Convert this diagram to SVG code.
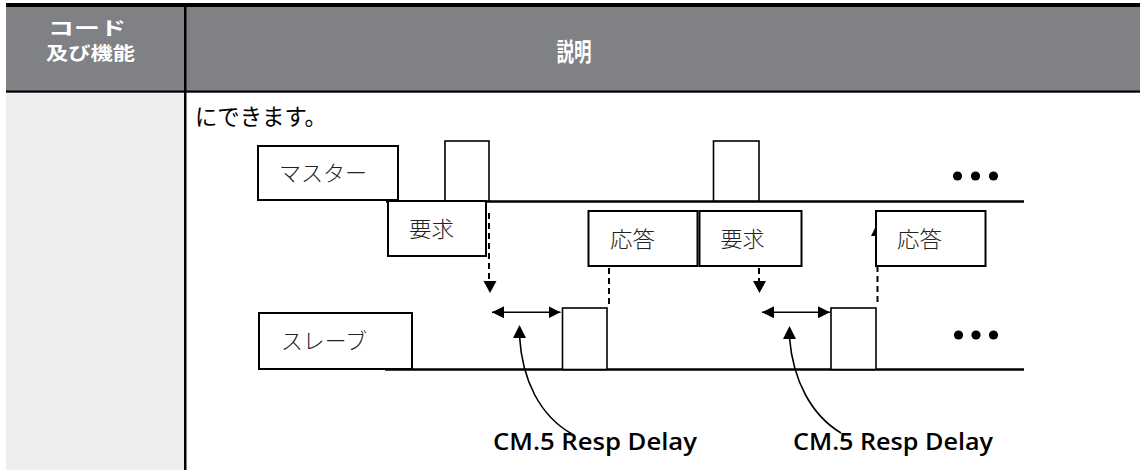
<svg xmlns="http://www.w3.org/2000/svg" width="1140" height="470" viewBox="0 0 1140 470">
<style>
.hdr{font-family:"Noto Sans CJK JP","Noto Sans",sans-serif;font-weight:bold;fill:#fff}
.body{font-family:"Noto Sans CJK JP","Noto Sans",sans-serif;fill:#000}
.lbl{font-family:"Noto Sans CJK JP",sans-serif;font-weight:300;font-size:22px;fill:#222}
.box{fill:#fff;stroke:#000;stroke-width:2}
.pulse{fill:#fff;stroke:#000;stroke-width:1.6}
.base{stroke:#000;stroke-width:2.5;fill:none}
.dash{stroke:#000;stroke-width:2;stroke-dasharray:6 4;fill:none}
.curve{stroke:#000;stroke-width:1.6;fill:none}
.cm{font-family:"Open Sans","Liberation Sans",sans-serif;font-weight:600;font-size:23px;fill:#000}
</style>
<defs>
<marker id="ah" viewBox="0 0 12 12" refX="12" refY="6" markerWidth="12" markerHeight="12" markerUnits="userSpaceOnUse" orient="auto-start-reverse">
<path d="M0,0 L12,6 L0,12 Z" fill="#000"/>
</marker>
</defs>
<rect x="0" y="0" width="1140" height="470" fill="#fff"/>
<g id="table">
<rect x="6" y="6" width="1134" height="85" fill="#808185"/>
<rect x="6" y="93" width="178" height="377" fill="#eeeeee"/>
<rect x="6" y="3" width="1134" height="4" fill="#000"/>
<rect x="6" y="90.5" width="1134" height="2.2" fill="#000"/>
<rect x="184" y="6" width="2.5" height="464" fill="#000"/>
<text class="hdr" x="48" y="35" font-size="18.5" textLength="78" lengthAdjust="spacingAndGlyphs">コード</text>
<text class="hdr" x="46" y="59.5" font-size="18" textLength="89" lengthAdjust="spacingAndGlyphs">及び機能</text>
<text class="hdr" x="556.5" y="61" font-size="25" textLength="35" lengthAdjust="spacingAndGlyphs">説明</text>
<text class="body" x="195" y="125" font-size="23" textLength="132" lengthAdjust="spacingAndGlyphs">にできます。</text>
</g>
<g id="master">
<rect class="box" x="258" y="146" width="140" height="54"/>
<text class="lbl" x="279" y="181" textLength="88" lengthAdjust="spacingAndGlyphs">マスター</text>
</g>
<g id="master-line">
<line class="base" x1="386" y1="201.5" x2="1024" y2="201.5"/>
<rect class="pulse" x="445" y="141" width="44" height="60"/>
<rect class="pulse" x="713.5" y="141" width="45.5" height="60"/>
<circle cx="957.5" cy="176" r="4.6"/>
<circle cx="975.5" cy="176" r="4.6"/>
<circle cx="993.5" cy="176" r="4.6"/>
</g>
<g id="connectors">
<line class="dash" x1="489" y1="213" x2="489" y2="282"/>
<path d="M483.5,281 L496.5,281 L490,293 Z" fill="#000"/>
<line class="dash" x1="759" y1="268" x2="759" y2="282"/>
<path d="M753,281 L766,281 L759.5,293 Z" fill="#000"/>
<line class="dash" x1="609" y1="268" x2="609" y2="305"/>
<line class="dash" x1="877.5" y1="236" x2="877.5" y2="305"/>
<path d="M871,236 L883,236 L877,224 Z" fill="#000"/>
<line class="curve" x1="492" y1="312.3" x2="560.5" y2="312.3" stroke-width="2" marker-start="url(#ah)" marker-end="url(#ah)"/>
<line class="curve" x1="762" y1="312.3" x2="830" y2="312.3" stroke-width="2" marker-start="url(#ah)" marker-end="url(#ah)"/>
<path class="curve" d="M519.5,336 C522,380 540,416 572,434"/>
<path d="M513,338 L526,338 L519.5,325 Z" fill="#000"/>
<path class="curve" d="M789.5,338 C793,380 811,415 841,433"/>
<path d="M783,339 L796,339 L789.5,326 Z" fill="#000"/>
</g>
<g id="request1">
<rect class="box" x="388" y="201" width="98" height="55"/>
<text class="lbl" x="409" y="237" textLength="45" lengthAdjust="spacingAndGlyphs">要求</text>
</g>
<g id="response1">
<rect class="box" x="588.5" y="211" width="109" height="55"/>
<text class="lbl" x="610" y="247" textLength="45" lengthAdjust="spacingAndGlyphs">応答</text>
</g>
<g id="request2">
<rect class="box" x="699.5" y="211" width="102" height="55"/>
<text class="lbl" x="720.5" y="247" textLength="44" lengthAdjust="spacingAndGlyphs">要求</text>
</g>
<g id="response2">
<rect class="box" x="876" y="211" width="109.5" height="55"/>
<text class="lbl" x="897" y="247" textLength="45" lengthAdjust="spacingAndGlyphs">応答</text>
</g>
<g id="slave">
<rect class="box" x="259" y="313" width="153" height="56"/>
<text class="lbl" x="281" y="349" textLength="86" lengthAdjust="spacingAndGlyphs">スレーブ</text>
</g>
<g id="slave-line">
<line class="base" x1="385" y1="369.5" x2="1024" y2="369.5"/>
<rect class="pulse" x="562.5" y="308" width="44.5" height="61.5"/>
<rect class="pulse" x="831" y="308" width="45" height="61.5"/>
<circle cx="958.5" cy="335" r="4.6"/>
<circle cx="976" cy="335" r="4.6"/>
<circle cx="993.5" cy="335" r="4.6"/>
</g>
<g id="labels">
<text class="cm" x="493" y="450" textLength="204" lengthAdjust="spacingAndGlyphs">CM.5 Resp Delay</text>
<text class="cm" x="793" y="450" textLength="200" lengthAdjust="spacingAndGlyphs">CM.5 Resp Delay</text>
</g>
</svg>
